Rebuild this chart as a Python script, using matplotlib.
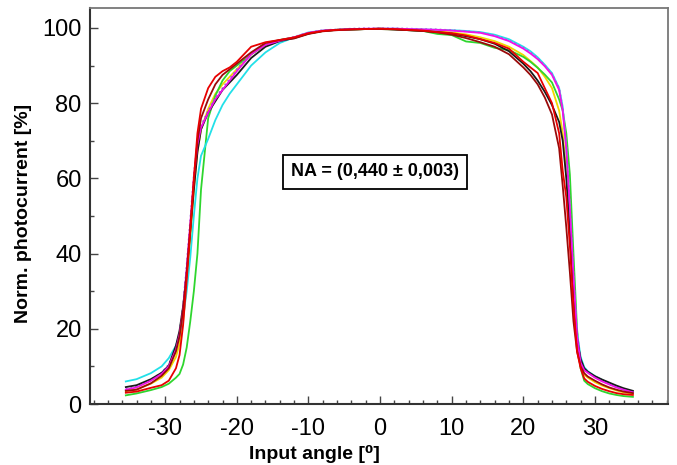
import matplotlib
matplotlib.use("Agg")
import matplotlib.pyplot as plt
from matplotlib.ticker import MultipleLocator

plt.rcParams['font.family'] = ['Liberation Sans', 'DejaVu Sans']
plt.rcParams['axes.unicode_minus'] = False

angles = [-35.5, -34, -32, -30.5, -29.5, -28.5, -28, -27.5, -27, -26.5, -26, -25.5, -25,
          -24, -23, -22, -21, -20, -18, -16, -14, -12, -10, -8, -6, -4, -2, 0, 2, 4, 6, 8,
          10, 12, 14, 16, 18, 20, 21, 22, 23, 24, 25, 25.5, 26, 26.5, 27, 27.5, 28, 28.5,
          29, 30, 31, 32, 33, 34, 35.3]

black = [4.5, 5.0, 6.6, 8.3, 10.2, 15.5, 19.5, 26, 35, 46, 57, 67, 73, 77.5, 80.5, 83.5, 85.5,
         87.5, 92, 95, 96.5, 97.3, 98.5, 99.2, 99.5, 99.6, 99.7, 99.8, 99.6, 99.4, 99.2, 98.9,
         98.5, 97.8, 97.0, 95.8, 93.8, 90.5, 88.5, 86, 83, 79.5, 75, 70, 60, 46, 30, 17.5, 12,
         9.5, 8.6, 7.4, 6.5, 5.7, 4.9, 4.2, 3.5]
cyan = [6.0, 6.6, 8.2, 10.0, 12.2, 15.5, 18.5, 23, 30, 39, 50, 60, 66, 70.5, 75.5, 79.5, 82.5,
        85, 90, 93.5, 96, 97.5, 98.8, 99.3, 99.5, 99.6, 99.7, 99.8, 99.8, 99.7, 99.6, 99.5, 99.4,
        99.2, 98.9, 98.2, 97, 95, 93.8, 92.2, 90.2, 88, 84, 79, 68, 51, 33, 19, 12.5, 9.8, 8.7,
        7.4, 6.4, 5.5, 4.7, 3.9, 3.2]
green = [2.3, 2.8, 3.7, 4.5, 5.4, 7.0, 8.0, 10.5, 15, 22, 30, 40, 57, 76, 82, 86, 88.5, 90,
         93, 95.5, 96.8, 97.5, 98.5, 99.2, 99.5, 99.6, 99.7, 99.7, 99.6, 99.4, 99.2, 98.4, 98.1,
         96.4, 96, 94.7, 94.1, 92.3, 91, 89.4, 87.6, 85.5, 81, 78, 72, 61, 40, 20, 9.5, 6.2, 5.3,
         4.2, 3.4, 2.8, 2.4, 2.1, 1.9]
red = [3.0, 3.3, 4.3, 5.0, 6.2, 9.5, 13, 21, 33, 46, 60, 72, 78.5, 84, 87, 88.5, 89.5, 91, 95,
       96.2, 96.8, 97.5, 98.6, 99.2, 99.5, 99.6, 99.7, 99.8, 99.7, 99.5, 99.3, 98.9, 98.6, 98,
       97, 96, 94.5, 91, 89.5, 88, 84, 80, 72, 62, 55, 42, 26, 14, 9.5, 6.8, 5.9, 4.8, 4.0,
       3.4, 2.9, 2.6, 2.4]
darkred = [3.5, 3.8, 5.5, 7.5, 9.5, 14, 18, 25, 35, 47, 59, 70, 76, 81, 85, 87.5, 89, 90.5,
           93.5, 96, 96.8, 97.2, 98.4, 99.1, 99.4, 99.6, 99.7, 99.7, 99.6, 99.4, 99.2, 98.8,
           98.2, 97.3, 96.2, 95, 93, 89.5, 87.5, 85, 81.5, 77, 68, 58, 47, 35, 22, 14, 10, 8.2,
           7.3, 6.2, 5.2, 4.4, 3.8, 3.3, 2.9]
magenta = [3.8, 4.4, 6.2, 8.0, 10.0, 14.5, 18.5, 25, 36, 48, 60, 69, 73.5, 77.5, 81, 83.5, 86,
           88.5, 93, 95.5, 96.6, 97.5, 98.7, 99.3, 99.5, 99.7, 99.8, 99.8, 99.8, 99.7, 99.6,
           99.5, 99.3, 99.0, 98.7, 97.8, 96.5, 94.5, 93.2, 91.7, 89.8, 87.5, 83.5, 78, 68, 52,
           34, 18, 11, 9.0, 8.3, 7.0, 6.0, 5.2, 4.4, 3.8, 3.1]
yellow = [3.4, 3.9, 5.4, 7.0, 9.0, 12.5, 16, 22, 32, 44, 57, 67, 73, 78.5, 82.5, 85, 87, 89,
          93, 95.5, 96.7, 97.4, 98.6, 99.2, 99.5, 99.6, 99.7, 99.8, 99.7, 99.6, 99.4, 99.1, 98.8,
          98.3, 97.5, 96.5, 95, 92.8, 91.2, 89.5, 87, 84, 78, 72, 62, 48, 30, 16, 10, 7.8, 7.0,
          5.8, 4.9, 4.2, 3.6, 3.1, 2.7]
purple = [4.0, 4.6, 6.5, 8.3, 10.5, 15, 19, 26, 37, 49, 61, 69.5, 74, 78, 81.5, 84, 86.5, 89,
          93.3, 95.7, 96.8, 97.6, 98.8, 99.4, 99.6, 99.8, 99.9, 99.9, 99.9, 99.8, 99.7, 99.6,
          99.4, 99.1, 98.8, 98, 96.7, 94.8, 93.5, 92, 90, 87.8, 84, 78.5, 69, 53, 35, 19, 11.5,
          9.3, 8.5, 7.2, 6.2, 5.3, 4.5, 3.9, 3.2]

series = [
    (yellow, '#f2d800', '-'),
    (green, '#2ed62e', '-'),
    (cyan, '#22e0e8', '-'),
    (purple, '#9a6ae0', ':'),
    (black, '#1a1a1a', '-'),
    (magenta, '#f010e8', '-'),
    (darkred, '#9a0a0a', '-'),
    (red, '#e80000', '-'),
]

annotation = "NA = (0,440 ± 0,003)"
xlabel = "Input angle [⁰]"
ylabel = "Norm. photocurrent [%]"

fig = plt.figure(figsize=(6.77, 4.65), dpi=100)
ax = fig.add_axes([90/677, 61/465, 578/677, 396/465])

for vals, col, ls in series:
    ax.plot(angles, vals, color=col, lw=1.3, ls=ls)

ax.set_xlim(-40.5, 40.2)
ax.set_ylim(0, 105.3)
ax.xaxis.set_major_locator(MultipleLocator(10))
ax.xaxis.set_minor_locator(MultipleLocator(2))
ax.yaxis.set_major_locator(MultipleLocator(20))
ax.yaxis.set_minor_locator(MultipleLocator(10))
ax.set_xticks([-30, -20, -10, 0, 10, 20, 30])
ax.tick_params(which='both', direction='in', color='#444444', width=1.0,
               top=False, right=False)
ax.tick_params(which='major', length=6, labelsize=17)
ax.tick_params(axis='x', which='major', pad=10)
ax.tick_params(axis='y', which='major', pad=6)
ax.tick_params(which='minor', length=3)
for s in ['left', 'bottom']:
    ax.spines[s].set_color('#333333')
    ax.spines[s].set_linewidth(1.5)
for s in ['top', 'right']:
    ax.spines[s].set_color('#777777')
    ax.spines[s].set_linewidth(1.3)

ax.text(-0.7, 61.7, annotation, fontsize=13, fontweight='bold', ha='center', va='center',
        bbox=dict(boxstyle='square,pad=0.45', fc='white', ec='black', lw=1.3))

fig.text(314/677, 1 - 454/465, xlabel, fontsize=14, fontweight='bold', ha='center', va='center')
fig.text(24/677, 1 - 213/465, ylabel, fontsize=14, fontweight='bold', ha='center', va='center',
         rotation=90)

fig.savefig('out.png', dpi=100)
